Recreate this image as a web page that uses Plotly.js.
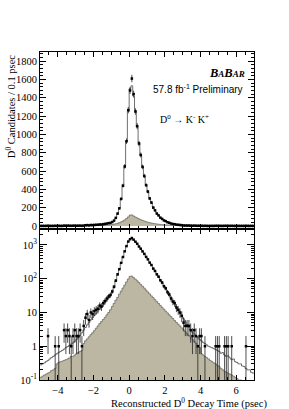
<!DOCTYPE html>
<html><head><meta charset="utf-8">
<script src="https://cdn.plot.ly/plotly-3.0.1.min.js"></script>
<style>html,body{margin:0;padding:0;background:#fff}#c{width:289px;height:409px}</style>
</head><body><div id="c"></div>
<script>
// Histogram binning: 0.1 psec bins from -5 to 7 psec
const binLow = -5.0;
const binWidth = 0.1;
// Data counts per bin
const dataCounts = [0,0,0,0,2,0,0,0,1,0, 1,0,0,3,2,3,2,1,2,3, 2,2,3,1,4,7,9,6,10,9,
 11,12,13,16,15,19,22,26,30,33, 42,58,88,135,192,295,440,650,925,1265,
 1480,1610,1440,1250,1090,900,775,645,545,445, 375,300,255,200,170,135,115,90,77,60,
 52,40,34,26,21,19,14,12,10,8, 5,4,4,4,3,2,3,2,1,2,
 2,0,1,0,0,0,0,0,1,1, 1,0,0,1,1,1,0,1,0,0, 0,0,0,0,0,1,0,0,0,0];
// Total fit (signal + background)
const totalFit = [0.28,0.3,0.32,0.35,0.38,0.42,0.46,0.5,0.55,0.6, 0.65,0.7,0.75,0.82,0.9,0.98,1.05,1.15,1.25,1.4,
 1.6,1.8,2.1,2.5,3.0,3.6,4.3,5.1,6.0,7.0, 8.2,9.5,11,12.5,14.5,17,20,23,27,32,
 40,55,85,130,195,290,430,640,920,1250, 1500,1530,1420,1260,1080,910,770,650,540,450,
 370,305,250,205,168,138,113,92,75,61, 50,41,33,27,22,18,14.5,12,9.7,8,
 6.5,5.3,4.4,3.7,3.1,2.6,2.3,2.0,1.8,1.6, 1.45,1.3,1.2,1.1,1.0,0.95,0.9,0.85,0.8,0.75,
 0.7,0.62,0.65,0.55,0.5,0.52,0.45,0.4,0.42,0.35, 0.33,0.3,0.3,0.26,0.25,0.22,0.2,0.2,0.17,0.16];
// Background component
const background = [0.12,0.13,0.14,0.15,0.16,0.17,0.19,0.2,0.22,0.3, 0.33,0.35,0.36,0.38,0.4,0.42,0.45,0.5,0.5,0.55,
 0.6,0.65,0.7,0.75,1.2,1.45,1.65,1.9,2.2,2.5, 2.9,3.4,4.0,4.7,5.4,6.2,7.2,8.5,10,12,
 15,18.5,23,28,35,43,53,65,80,98, 118,120,108,97,87,77,68,60,53,46,
 40.5,35.5,31,27.5,24,21,18.5,16.2,14.2,12.5, 11,9.7,8.5,7.5,6.6,5.8,5.1,4.5,4.0,3.5,
 3.05,2.7,2.35,2.05,1.8,1.6,1.4,1.22,1.07,0.93, 0.6,0.55,0.5,0.46,0.42,0.38,0.35,0.32,0.3,0.27,
 0.25,0.22,0.2,0.18,0.17,0.16,0.15,0.14,0.13,0.12, 0.11,0.1,0.1,0.095,0.09,0.09,0.085,0.08,0.08,0.075];
const xTickVals = [-4,-2,0,2,4,6];
const yLinTicks = [0,200,400,600,800,1000,1200,1400,1600,1800];
const yLogTickVals = [0.1,1,10,100,1000];
const yLogTickText = ['10<sup>-1</sup>','1','10','10<sup>2</sup>','10<sup>3</sup>'];

const n = dataCounts.length;
const centers = dataCounts.map((_, i) => binLow + binWidth * (i + 0.5));
const edges = []; for (let i = 0; i <= n; i++) edges.push(binLow + binWidth * i);
const stepY = a => a.concat([a[a.length - 1]]);
const errs = dataCounts.map(v => Math.sqrt(v));

const fillCol = '#bcb7a2';
const bgLine = '#6e6b60';
const fitLine = '#4a4a4a';
const serif = 'Liberation Serif';

function panelTraces(xa, ya, isLog) {
  const dX = [], dY = [], dE = [];
  for (let i = 0; i < n; i++) {
    if (isLog && dataCounts[i] <= 0) continue;
    dX.push(centers[i]); dY.push(dataCounts[i]); dE.push(errs[i]);
  }
  return [
    {x: edges, y: stepY(background), xaxis: xa, yaxis: ya, type: 'scatter', mode: 'lines',
     line: {shape: 'hv', color: bgLine, width: 0.8}, fill: 'tozeroy', fillcolor: fillCol, hoverinfo: 'skip'},
    {x: edges, y: stepY(totalFit), xaxis: xa, yaxis: ya, type: 'scatter', mode: 'lines',
     line: {shape: 'hv', color: fitLine, width: 0.8}, hoverinfo: 'skip'},
    {x: dX, y: dY, xaxis: xa, yaxis: ya, type: 'scatter', mode: 'markers',
     marker: {symbol: 'square', size: 2.5, color: '#000'},
     error_y: {type: 'data', array: dE, visible: true, color: '#222', thickness: 0.8, width: 0}}
  ];
}

const traces = panelTraces('x', 'y', false).concat(panelTraces('x2', 'y2', true));

const logMinor = [];
for (let d = -1; d <= 3; d++) for (let k = 2; k <= 9; k++) logMinor.push(k * Math.pow(10, d));

const axCommon = {showline: true, linecolor: '#000', linewidth: 1, mirror: 'ticks', ticks: 'inside',
  tickcolor: '#000', tickwidth: 1, showgrid: false, zeroline: false,
  tickfont: {family: serif, size: 10.5, color: '#000'}};

const layout = {
  width: 289, height: 409,
  margin: {l: 40, r: 35, t: 52, b: 29},
  paper_bgcolor: '#fff', plot_bgcolor: '#fff',
  showlegend: false,
  xaxis: Object.assign({}, axCommon, {domain: [0, 1], anchor: 'y', range: [-5, 7], tickvals: xTickVals,
    showticklabels: false, ticklen: 5, minor: {dtick: 0.5, tick0: 0, ticklen: 3, ticks: 'inside', tickcolor: '#000'}}),
  yaxis: Object.assign({}, axCommon, {domain: [0.46, 1], anchor: 'x', range: [-35, 1900], tickvals: yLinTicks,
    ticklen: 6, minor: {dtick: 40, tick0: 0, ticklen: 3, ticks: 'inside', tickcolor: '#000'}}),
  xaxis2: Object.assign({}, axCommon, {domain: [0, 1], anchor: 'y2', range: [-5, 7], tickvals: xTickVals,
    ticklen: 5, minor: {dtick: 0.5, tick0: 0, ticklen: 3, ticks: 'inside', tickcolor: '#000'}}),
  yaxis2: Object.assign({}, axCommon, {domain: [0, 0.46], anchor: 'x2', type: 'log', range: [-1, 3.47],
    tickmode: 'array', tickvals: yLogTickVals, ticktext: yLogTickText, ticklen: 7,
    minor: {tickmode: 'array', tickvals: logMinor, ticklen: 3, ticks: 'inside', tickcolor: '#000'}}),
  annotations: [
    {xref: 'paper', yref: 'paper', x: -0.14, y: 0.832, xanchor: 'center', yanchor: 'middle', textangle: -90,
     text: 'D<sup>0</sup> Candidates / 0.1 psec', showarrow: false, font: {family: serif, size: 10.5, color: '#000'}},
    {xref: 'paper', yref: 'paper', x: 0.696, y: -0.07, xanchor: 'center', yanchor: 'middle',
     text: 'Reconstructed D<sup>0</sup> Decay Time (psec)', showarrow: false, font: {family: serif, size: 10.5, color: '#000'}},
    {xref: 'paper', yref: 'paper', x: 0.967, y: 0.936, xanchor: 'right', yanchor: 'middle',
     text: '<b><i>B<span style="font-size:9px">A</span>B<span style="font-size:9px">AR</span></i></b>', showarrow: false,
     font: {family: serif, size: 12.5, color: '#000'}},
    {xref: 'paper', yref: 'paper', x: 0.958, y: 0.887, xanchor: 'right', yanchor: 'middle',
     text: '57.8 fb<sup>-1</sup> Preliminary', showarrow: false, font: {family: 'Liberation Sans', size: 10, color: '#000'}},
    {xref: 'paper', yref: 'paper', x: 0.551, y: 0.796, xanchor: 'left', yanchor: 'middle',
     text: 'D<sup>0</sup> \u2192 K<sup>-</sup> K<sup>+</sup>', showarrow: false, font: {family: serif, size: 10, color: '#000'}}
  ]
};

Plotly.newPlot('c', traces, layout, {staticPlot: true, displayModeBar: false});
</script></body></html>
